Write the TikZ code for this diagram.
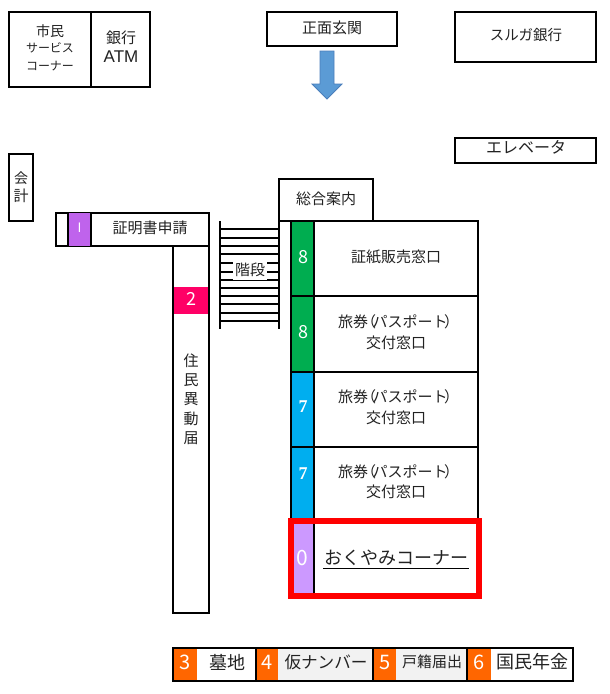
\documentclass[tikz,border=0pt]{standalone}
\usepackage{fontspec}
\setmainfont{Noto Sans CJK JP}
\newfontfamily\latinsans{Liberation Sans}
\newfontfamily\latinserif{Liberation Serif}
\definecolor{cgreen}{HTML}{00AD50}
\definecolor{cblue}{HTML}{00AEEF}
\definecolor{cpurple}{HTML}{BF63EC}
\definecolor{clilac}{HTML}{CC99FF}
\definecolor{cpink}{HTML}{FF0066}
\definecolor{corange}{HTML}{FF6600}
\definecolor{cgray}{HTML}{F2F2F2}
\definecolor{carrow}{HTML}{5B9BD5}
\definecolor{carrowedge}{HTML}{4A7EBB}
\definecolor{ctext}{HTML}{222222}
\newcommand{\passportlabel}{旅券\kern-7pt（\kern-3.5pt パスポート\kern-3.5pt）\kern-7pt}
\tikzset{
  room/.style={draw=black,line width=2.2pt,fill=white},
  lbl/.style={inner sep=0pt,align=center,text=ctext,font=\fontsize{15}{18}\selectfont},
  num/.style={inner sep=0pt,text=white,font=\fontsize{18}{18}\selectfont},
  wall/.style={draw=black,line width=2.2pt},
}
\begin{document}
\begin{tikzpicture}[x=1pt,y=-1pt]
\useasboundingbox[fill=white] (0,0) rectangle (610,694);
% top row
\draw[room] (9,12) rectangle (91,87);
\draw[room] (91,12) rectangle (150,87);
\node[lbl] (shimin) at (50,31) {\fontsize{14}{14}\selectfont 市民};
\node[lbl] (service) at (50,48) {\fontsize{12}{12}\selectfont サービス};
\node[lbl] (corner) at (50,66) {\fontsize{12}{12}\selectfont コーナー};
\node[lbl] (ginko) at (121,38) {銀行};
\node[lbl] (atm) at (121,57) {\latinsans\fontsize{17}{17}\selectfont ATM};
\draw[room] (267,12) rectangle (397,46);
\node[lbl] (genkan) at (332,28) {正面玄関};
\draw[carrowedge,fill=carrow,line width=.8pt] (320,51) -- (334,51) -- (334,84) -- (342,84) -- (327,99) -- (312,84) -- (320,84) -- cycle;
\draw[room] (455,12) rectangle (596,62);
\node[lbl] (suruga) at (526,35) {\fontsize{14.5}{15}\selectfont スルガ銀行};
\draw[room] (455,138) rectangle (596,163);
\node[lbl] (elev) at (526,147) {\fontsize{16}{16}\selectfont エレベータ};
% kaikei
\draw[room] (9,154) rectangle (33,221);
\node[lbl] (kaikei) at (21,187) {\fontsize{14}{20}\selectfont 会\\計};
% shomeisho
\draw[room] (56,213) rectangle (209,246);
\fill[cpurple] (68,213) rectangle (91,246);
\draw[wall] (68,213) -- (68,246) (91,213) -- (91,246);
\node[num,font=\fontsize{13}{13}\selectfont] (n1) at (79.5,228) {I};
\node[lbl] (shomei) at (150,228) {証明書申請};
% juumin
\draw[room] (173,246) rectangle (209,613);
\fill[cpink] (173.5,287) rectangle (208,314);
\node[num] (n2) at (191,299) {2};
\node[lbl,font=\fontsize{15}{19.3}\selectfont] (juumin) at (191,399) {住\\民\\異\\動\\届};
% stairs
\foreach \yy in {229,238,246,254,263,272,280,288,296,304,313,321}
  \draw[wall,line width=1.8pt] (220,\yy) -- (279,\yy);
\draw[wall] (220,221) -- (220,329);
\draw[wall] (279,221) -- (279,329);
\node[lbl,fill=white,inner xsep=2pt,inner ysep=3pt] (kaidan) at (250,270) {階段};
% info
\draw[room] (279,179) rectangle (373,221);
\node[lbl] (annai) at (326,199) {総合案内};
% windows
\draw[room] (291,221) rectangle (478,296);
\draw[room] (291,296) rectangle (478,372);
\draw[room] (291,372) rectangle (478,447);
\draw[room] (291,447) rectangle (478,520);
\fill[cgreen] (292,222) rectangle (313,295);
\fill[cgreen] (292,297) rectangle (313,371);
\fill[cblue] (292,373) rectangle (313,446);
\fill[cblue] (292,448) rectangle (313,519);
\draw[wall] (314,221) -- (314,520);
\node[num] (n8a) at (303,257) {8};
\node[num] (n8b) at (303,332) {8};
\node[num,font=\latinserif\bfseries\fontsize{18}{18}\selectfont] (n7a) at (303,407) {7};
\node[num,font=\latinserif\bfseries\fontsize{18}{18}\selectfont] (n7b) at (303,474) {7};
\node[lbl] (shoshi) at (396,257) {証紙販売窓口};
\node[lbl] (p1a) at (395,322) {\passportlabel};
\node[lbl] (p1b) at (396,343) {交付窓口};
\node[lbl] (p2a) at (395,397) {\passportlabel};
\node[lbl] (p2b) at (396,418) {交付窓口};
\node[lbl] (p3a) at (395,472) {\passportlabel};
\node[lbl] (p3b) at (396,492) {交付窓口};
% okuyami
\fill[white] (288,518) rectangle (482,599);
\fill[clilac] (293,523) rectangle (313,594);
\draw[wall] (314,523) -- (314,594);
\draw[red,line width=6pt] (291,521) rectangle (479,596);
\node[num,font=\fontsize{21}{21}\selectfont] (n0) at (302,558) {0};
\node[lbl,font=\fontsize{18}{18}\selectfont] (okuyami) at (396,558) {おくやみコーナー};
\draw[black,line width=1pt] (323,568) -- (469,568);
% bottom
\fill[white] (173,648) rectangle (573,681);
\fill[cgray] (278,648) rectangle (373,681);
\fill[cgray] (396,648) rectangle (467,681);
\fill[corange] (174,648) rectangle (197,681);
\fill[corange] (256,648) rectangle (278,681);
\fill[corange] (373,648) rectangle (396,681);
\fill[corange] (467,648) rectangle (491,681);
\draw[wall] (173,648) rectangle (573,681);
\draw[wall] (256,648) -- (256,681) (373,648) -- (373,681) (467,648) -- (467,681);
\node[num,font=\fontsize{20}{20}\selectfont] (n3) at (185,662) {3};
\node[num,font=\fontsize{20}{20}\selectfont] (n4) at (267,662) {4};
\node[num,font=\fontsize{20}{20}\selectfont] (n5) at (385,662) {5};
\node[num,font=\fontsize{20}{20}\selectfont] (n6) at (479,662) {6};
\node[lbl,font=\fontsize{18}{18}\selectfont] (bochi) at (227,662) {墓地};
\node[lbl,font=\fontsize{16.6}{17}\selectfont] (kari) at (326,662) {仮ナンバー};
\node[lbl,font=\fontsize{15}{15}\selectfont] (koseki) at (432,662) {戸籍届出};
\node[lbl,font=\fontsize{18}{18}\selectfont] (nenkin) at (532,662) {国民年金};
\end{tikzpicture}
\end{document}
